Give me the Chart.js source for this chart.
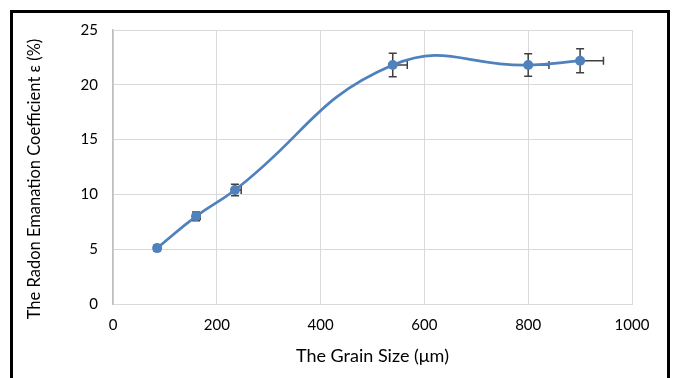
<!DOCTYPE html>
<html>
<head>
<meta charset="utf-8">
<script src="https://cdn.jsdelivr.net/npm/chart.js@4.4.0/dist/chart.umd.min.js"></script>
<style>
  html, body { margin: 0; padding: 0; background: #fff; }
  #wrap { position: relative; width: 674px; height: 378px; overflow: hidden; }
  #frame { position: absolute; left: 10px; top: 10px; width: 660px; height: 420px; border: 3px solid #000; box-sizing: border-box; pointer-events: none; }
  canvas { position: absolute; left: 0; top: 0; }
</style>
</head>
<body>
<div id="wrap">
  <canvas id="c" width="674" height="378"></canvas>
  <div id="frame"></div>
</div>
<script>
// Grain size (µm)
const grainSize = [85, 160, 235, 539, 800, 900];
// Radon emanation coefficient ε (%)
const emanation = [5.1, 8.0, 10.4, 21.8, 21.8, 22.2];
// Error bar half-lengths (y, ±) and x (plus direction only)
const yError = [0.26, 0.4, 0.52, 1.07, 1.03, 1.1];
const xErrorPlus = [4, 8, 12, 28, 40, 45];
// Axis ticks
const xTicks = [0, 200, 400, 600, 800, 1000];
const yTicks = [0, 5, 10, 15, 20, 25];
// Axis titles
const xTitle = 'The Grain Size (μm)';
const yTitle = 'The Radon Emanation Coefficient ε (%)';

const points = grainSize.map((x, i) => ({ x: x, y: emanation[i] }));

const FONT = "Lato, 'Open Sans', 'DejaVu Sans', sans-serif";

const errorBars = {
  id: 'errorBars',
  beforeDatasetsDraw(chart) {
    const ctx = chart.ctx;
    const xs = chart.scales.x, ys = chart.scales.y;
    ctx.save();
    ctx.strokeStyle = '#404040';
    ctx.lineWidth = 1.5;
    const cap = 4;
    grainSize.forEach((gx, i) => {
      const px = xs.getPixelForValue(gx);
      const py = ys.getPixelForValue(emanation[i]);
      const yTop = ys.getPixelForValue(emanation[i] + yError[i]);
      const yBot = ys.getPixelForValue(emanation[i] - yError[i]);
      const xR = xs.getPixelForValue(gx + xErrorPlus[i]);
      ctx.beginPath();
      ctx.moveTo(px, yTop); ctx.lineTo(px, yBot);
      ctx.moveTo(px - cap, yTop); ctx.lineTo(px + cap, yTop);
      ctx.moveTo(px - cap, yBot); ctx.lineTo(px + cap, yBot);
      ctx.moveTo(px, py); ctx.lineTo(xR, py);
      ctx.moveTo(xR, py - cap); ctx.lineTo(xR, py + cap);
      ctx.stroke();
    });
    ctx.restore();
  }
};

const yAxisTitle = {
  id: 'yAxisTitle',
  afterDraw(chart) {
    const ctx = chart.ctx;
    ctx.save();
    ctx.translate(35, 179);
    ctx.rotate(-Math.PI / 2);
    ctx.fillStyle = '#000';
    ctx.font = "16.5px " + FONT;
    ctx.textAlign = 'center';
    ctx.textBaseline = 'middle';
    ctx.fillText(yTitle, 0, 0);
    ctx.restore();
  }
};

new Chart(document.getElementById('c'), {
  type: 'scatter',
  data: {
    datasets: [{
      data: points,
      showLine: true,
      tension: 0.45,
      borderColor: '#4f81bd',
      backgroundColor: '#4f81bd',
      borderWidth: 2.75,
      pointRadius: 5,
      pointHoverRadius: 5,
      pointBorderWidth: 0,
      pointBackgroundColor: '#4f81bd'
    }]
  },
  options: {
    responsive: false,
    animation: false,
    devicePixelRatio: 1,
    layout: { padding: { left: 23, right: 42, top: 30, bottom: 0 } },
    plugins: { legend: { display: false }, tooltip: { enabled: false } },
    scales: {
      x: {
        type: 'linear',
        min: 0, max: 1000,
        afterBuildTicks(scale) { scale.ticks = xTicks.map(v => ({ value: v })); },
        afterFit(scale) { scale.height = 74; },
        grid: { color: '#d9d9d9', lineWidth: 1, drawTicks: false },
        border: { color: '#d9d9d9', width: 1 },
        ticks: { color: '#000', font: { family: FONT, size: 15 }, padding: 12, maxRotation: 0,
                 callback: v => String(v) },
        title: { display: true, text: xTitle, color: '#000', font: { family: FONT, size: 18 }, padding: { top: 0, bottom: 11 } }
      },
      y: {
        type: 'linear',
        min: 0, max: 25,
        afterBuildTicks(scale) { scale.ticks = yTicks.map(v => ({ value: v })); },
        afterFit(scale) { scale.width = 90; },
        grid: { color: '#d9d9d9', lineWidth: 1, drawTicks: false },
        border: { color: '#bfbfbf', width: 1.5 },
        ticks: { color: '#000', font: { family: FONT, size: 15 }, padding: 15, callback: v => String(v) },
        title: { display: false }
      }
    }
  },
  plugins: [errorBars, yAxisTitle]
});
</script>
</body>
</html>
